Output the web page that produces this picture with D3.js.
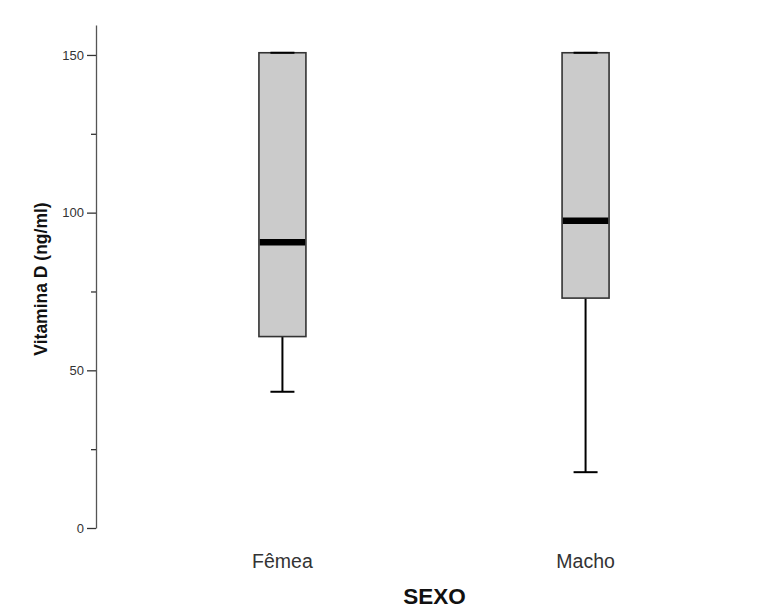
<!DOCTYPE html>
<html>
<head>
<meta charset="utf-8">
<script src="https://cdn.jsdelivr.net/npm/d3@7"></script>
<style>
  html, body { margin: 0; padding: 0; background: #fff; }
  svg { display: block; font-family: "Liberation Sans", Arial, sans-serif; }
</style>
</head>
<body>
<svg id="chart" width="770" height="608"></svg>
<script>
const categories = ["Fêmea", "Macho"];
const whiskerLow = [43.2, 17.7];
const quartile1 = [60.7, 72.9];
const medians = [90.6, 97.4];
const quartile3 = [150.7, 150.7];
const whiskerHigh = [150.7, 150.7];
const majorTicks = [0, 50, 100, 150];
const minorTicks = [25, 75, 125];
const yLabel = "Vitamina D (ng/ml)";
const xLabel = "SEXO";

const svg = d3.select("#chart");

const y = d3.scaleLinear().domain([0, 159.5]).range([528, 25]);
const x = d3.scalePoint().domain(categories).range([96, 772]).padding(0.615);
const boxW = 47;
const capW = 24;

// Y axis
const yAxis = svg.append("g").attr("transform", "translate(96,0)")
  .call(d3.axisLeft(y).tickValues(majorTicks).tickSize(9).tickPadding(3).tickSizeOuter(0));
yAxis.select(".domain").attr("stroke", "#555").attr("stroke-width", 1.3);
yAxis.selectAll(".tick line").attr("stroke", "#333").attr("stroke-width", 1.3);
yAxis.selectAll(".tick text").attr("fill", "#333").style("font-size", "13px")
  .style("font-family", "'Liberation Sans', Arial, sans-serif");

const yMinor = svg.append("g").attr("transform", "translate(96,0)")
  .call(d3.axisLeft(y).tickValues(minorTicks).tickSize(5).tickFormat(""));
yMinor.select(".domain").remove();
yMinor.selectAll(".tick line").attr("stroke", "#333").attr("stroke-width", 1.3);

// Boxes
const data = categories.map((c, i) => ({
  c, lo: whiskerLow[i], q1: quartile1[i], med: medians[i], q3: quartile3[i], hi: whiskerHigh[i]
}));

const g = svg.append("g");
data.forEach(d => {
  const cx = x(d.c);
  // lower whisker
  g.append("line").attr("x1", cx).attr("x2", cx).attr("y1", y(d.q1)).attr("y2", y(d.lo))
    .attr("stroke", "#000").attr("stroke-width", 2);
  g.append("line").attr("x1", cx - capW / 2).attr("x2", cx + capW / 2).attr("y1", y(d.lo)).attr("y2", y(d.lo))
    .attr("stroke", "#000").attr("stroke-width", 2);
  // upper whisker
  g.append("line").attr("x1", cx).attr("x2", cx).attr("y1", y(d.q3)).attr("y2", y(d.hi))
    .attr("stroke", "#000").attr("stroke-width", 2);
  // box
  g.append("rect").attr("x", cx - boxW / 2).attr("width", boxW)
    .attr("y", y(d.q3)).attr("height", y(d.q1) - y(d.q3))
    .attr("fill", "#cbcbcb").attr("stroke", "#333").attr("stroke-width", 1.6);
  // upper cap (overlapping box top)
  g.append("line").attr("x1", cx - capW / 2).attr("x2", cx + capW / 2).attr("y1", y(d.hi)).attr("y2", y(d.hi))
    .attr("stroke", "#000").attr("stroke-width", 2);
  // median
  g.append("line").attr("x1", cx - boxW / 2 + 0.8).attr("x2", cx + boxW / 2 - 0.8)
    .attr("y1", y(d.med)).attr("y2", y(d.med))
    .attr("stroke", "#000").attr("stroke-width", 6.5);
});

// Category labels
svg.append("g").selectAll("text").data(categories).join("text")
  .attr("x", d => x(d)).attr("y", 567.5)
  .attr("text-anchor", "middle")
  .attr("fill", "#333")
  .style("font-size", "19.5px")
  .text(d => d);

// X title
svg.append("text").attr("x", 434.5).attr("y", 604.3)
  .attr("text-anchor", "middle").attr("fill", "#111")
  .style("font-size", "22.5px").style("font-weight", "bold")
  .text(xLabel);

// Y title
svg.append("text")
  .attr("transform", "translate(47,279) rotate(-90)")
  .attr("text-anchor", "middle").attr("fill", "#111")
  .style("font-size", "17.5px").style("font-weight", "bold")
  .text(yLabel);
</script>
</body>
</html>
